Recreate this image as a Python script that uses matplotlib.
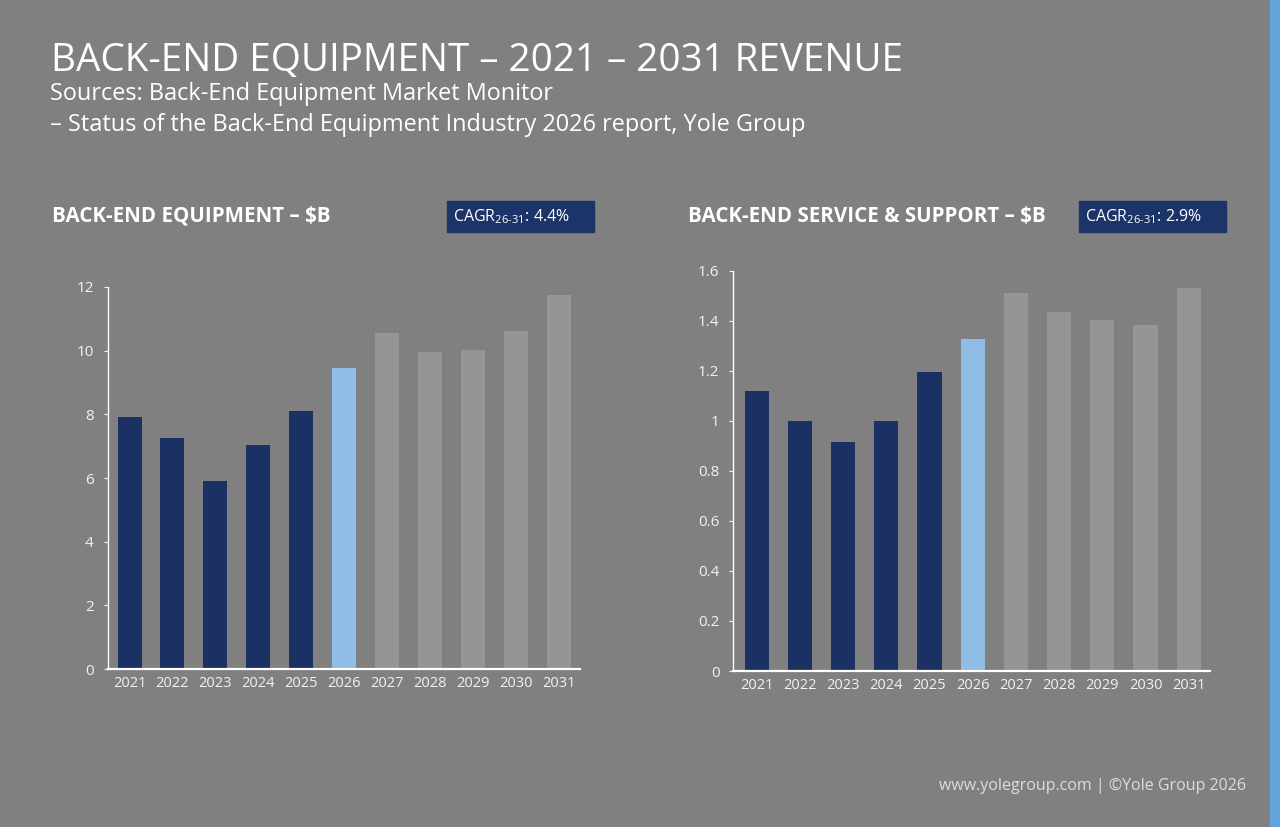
import matplotlib.pyplot as plt
from matplotlib.patches import Rectangle

years = ['2021', '2022', '2023', '2024', '2025', '2026',
         '2027', '2028', '2029', '2030', '2031']
equipment = [7.92, 7.27, 5.92, 7.05, 8.11, 9.45, 10.55, 9.95, 10.01, 10.62, 11.74]
service = [1.12, 1.00, 0.915, 1.00, 1.194, 1.328, 1.513, 1.437, 1.404, 1.384, 1.53]
equipment_ticks = [0, 2, 4, 6, 8, 10, 12]
service_ticks = [0, 0.2, 0.4, 0.6, 0.8, 1.0, 1.2, 1.4, 1.6]
service_labels = ['0', '0.2', '0.4', '0.6', '0.8', '1', '1.2', '1.4', '1.6']

BG = '#808080'
NAVY = '#1c3163'
LIGHT = '#8fbde6'
GREY = '#959595'
BOX = '#1d3468'

plt.rcParams['font.family'] = ['Open Sans', 'DejaVu Sans']


def bar_colors():
    # past = navy, current year = light blue, forecast = grey
    return [NAVY] * 5 + [LIGHT] + [GREY] * 5


def panel(fig, rect, values, ticks, labels, ylim, xlim):
    ax = fig.add_axes(rect)
    ax.set_facecolor(BG)
    x = range(len(years))
    ax.bar(x, values, width=0.56, color=bar_colors())
    ax.set_xlim(*xlim)
    ax.set_ylim(*ylim)
    ax.set_xticks(list(x))
    ax.set_xticklabels(years)
    ax.set_yticks(ticks)
    ax.set_yticklabels(labels)
    for s in ['top', 'right']:
        ax.spines[s].set_visible(False)
    ax.spines['left'].set_color('white')
    ax.spines['left'].set_linewidth(1.0)
    ax.spines['bottom'].set_color('white')
    ax.spines['bottom'].set_linewidth(1.6)
    ax.tick_params(axis='x', length=0, pad=5, colors='#f2f2f2', labelsize=10.5)
    ax.tick_params(axis='y', length=3, width=0.8, pad=7, colors='#f2f2f2',
                   labelsize=11)
    return ax


def cagr_box(fig, x0, text):
    W, H = 1280.0, 827.0
    fig.patches.append(Rectangle((x0 / W, 1 - 232 / H), 147 / W, 31 / H,
                                 transform=fig.transFigure, color=BOX))
    fig.text((x0 + 6) / W, 1 - 217 / H, text, color='white', fontsize=11.5,
             va='center', ha='left')


fig = plt.figure(figsize=(12.8, 8.27), dpi=100)
fig.patch.set_facecolor(BG)

panel(fig, [0.0841, 0.191, 0.369, 0.462], equipment, equipment_ticks,
      [str(t) for t in equipment_ticks], (0, 12), (-0.51, 10.5))
panel(fig, [0.5729, 0.1886, 0.3724, 0.484], service, service_ticks,
      service_labels, (0, 1.6), (-0.54, 10.49))

fig.text(51 / 1280, 1 - 61 / 827, 'BACK-END EQUIPMENT – 2021 – 2031 REVENUE',
         color='white', fontsize=27.8, va='center')
fig.text(50 / 1280, 1 - 94 / 827, 'Sources: Back-End Equipment Market Monitor',
         color='white', fontsize=16.9, va='center')
fig.text(50 / 1280, 1 - 125 / 827,
         '– Status of the Back-End Equipment Industry 2026 report, Yole Group',
         color='white', fontsize=16.9, va='center')

fig.text(52 / 1280, 1 - 216 / 827, 'BACK-END EQUIPMENT – $B', color='white',
         fontsize=14.8, fontweight='bold', va='center')
fig.text(688 / 1280, 1 - 217 / 827, 'BACK-END SERVICE & SUPPORT – $B',
         color='white', fontsize=14.8, fontweight='bold', va='center')

cagr_box(fig, 447, r'CAGR$_{\mathregular{26‑31}}$: 4.4%')
cagr_box(fig, 1079, r'CAGR$_{\mathregular{26‑31}}$: 2.9%')

fig.text(1246 / 1280, 1 - 786 / 827, 'www.yolegroup.com | ©Yole Group 2026',
         color='#dcdcdc', fontsize=11.5, ha='right', va='center')

# blue strip on the right edge
fig.patches.append(Rectangle((1270 / 1280, 0), 10 / 1280, 1,
                             transform=fig.transFigure, color='#62a4da'))

fig.savefig('out.png', dpi=100, facecolor=BG)
